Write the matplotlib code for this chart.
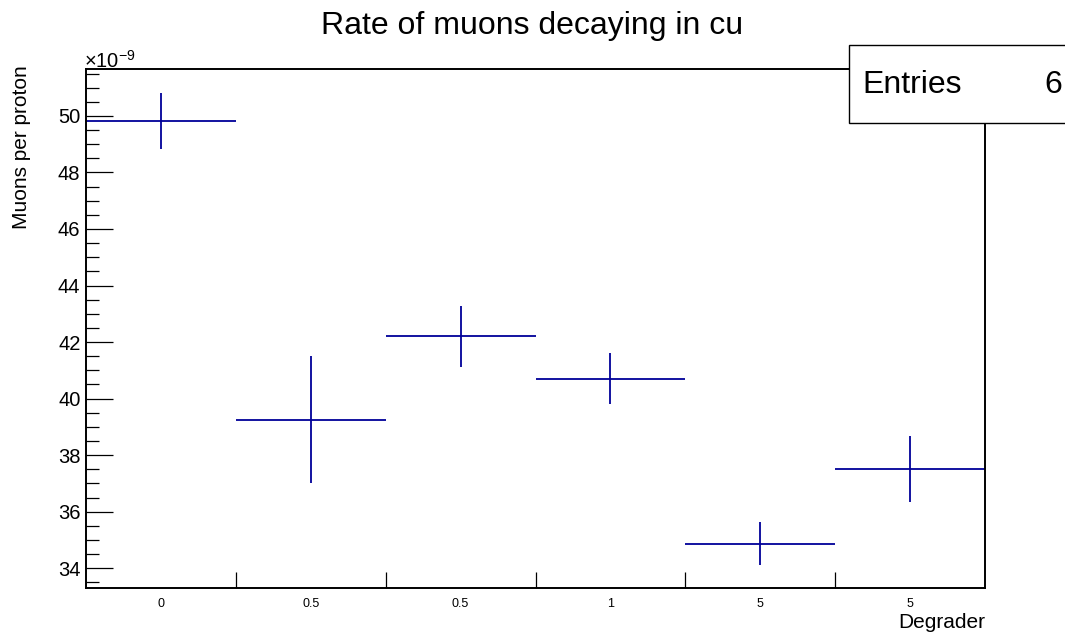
import numpy as np
import matplotlib
matplotlib.use("Agg")
from matplotlib import pyplot as plt
from matplotlib.patches import Rectangle
from matplotlib.ticker import MultipleLocator, FixedLocator, NullFormatter

plt.rcParams['font.family'] = ['Liberation Sans', 'DejaVu Sans']
plt.rcParams['mathtext.fontset'] = 'custom'
plt.rcParams['mathtext.rm'] = 'Liberation Sans'

# data (muons per proton, in units of 1e-9)
degrader_labels = ["0", "0.5", "0.5", "1", "5", "5"]
rate = [49.82, 39.25, 42.20, 40.70, 34.87, 37.51]
rate_err = [1.00, 2.25, 1.08, 0.90, 0.75, 1.15]
entries = 6

fig = plt.figure(figsize=(10.65, 6.37), dpi=100)
ax = fig.add_axes([0.0808, 0.0769, 0.8441, 0.8148])

centers = np.arange(len(rate)) + 0.5
ax.errorbar(centers, rate, xerr=0.5, yerr=rate_err, fmt='none',
            ecolor='#000099', elinewidth=1.3, capsize=0)

ax.set_xlim(0, len(rate))
ax.set_ylim(33.30, 51.66)

# x axis: labels at bin centres, ticks at bin edges
ax.xaxis.set_major_locator(FixedLocator(centers))
ax.set_xticklabels(degrader_labels, fontsize=9)
ax.xaxis.set_minor_locator(FixedLocator(np.arange(1, len(rate))))
ax.xaxis.set_minor_formatter(NullFormatter())
ax.tick_params(axis='x', which='major', length=0, pad=7.5)
ax.tick_params(axis='x', which='minor', direction='in', length=11.5, width=0.9)

# y axis
ax.yaxis.set_major_locator(MultipleLocator(2))
ax.yaxis.set_minor_locator(MultipleLocator(0.5))
ax.tick_params(axis='y', which='major', direction='in', length=19.2, width=0.9,
               labelsize=14.5, pad=4)
ax.tick_params(axis='y', which='minor', direction='in', length=9.6, width=0.9)
ax.tick_params(right=False, top=False)

for s in ax.spines.values():
    s.set_linewidth(1.4)

ax.text(-0.002, 0.994, r'$\times10^{-9}$', transform=ax.transAxes,
        fontsize=14.5, ha='left', va='bottom')

fig.text(0.4995, 0.959, "Rate of muons decaying in cu", fontsize=23,
         ha='center', va='center')
fig.text(0.9249, 0.022, "Degrader", fontsize=15, ha='right', va='center')
fig.text(0.020, 0.898, "Muons per proton", fontsize=15, rotation=90,
         ha='center', va='top')

# stats box
box = Rectangle((849 / 1065, 1 - 123 / 637), 0.25, 78 / 637,
                transform=fig.transFigure, facecolor='white',
                edgecolor='black', linewidth=1.0, zorder=5)
fig.patches.append(box)
fig.text(862 / 1065, 1 - 85 / 637, "Entries", fontsize=23, ha='left',
         va='center', zorder=6)
fig.text(1062 / 1065, 1 - 85 / 637, str(entries), fontsize=23, ha='right',
         va='center', zorder=6)

fig.savefig("out.png", dpi=100)
